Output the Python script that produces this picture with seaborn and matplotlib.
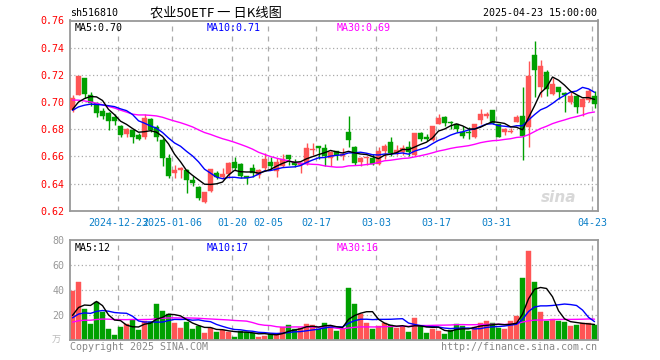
import numpy as np
import pandas as pd
import matplotlib
matplotlib.use("Agg")
import matplotlib.pyplot as plt
import seaborn as sns

# ---------------- data ----------------
opens = [0.694, 0.705, 0.7175, 0.705, 0.6991, 0.6936, 0.6921, 0.6888, 0.6822, 0.6764,
         0.6794, 0.6757, 0.6745, 0.6873, 0.6818, 0.6721, 0.6586, 0.6480, 0.6500, 0.6500,
         0.6426, 0.6372, 0.6266, 0.6347, 0.6475, 0.6446, 0.6470, 0.6561, 0.6544, 0.6455,
         0.6512, 0.6463, 0.6512, 0.6556, 0.6495, 0.6529, 0.6610, 0.6561, 0.6536, 0.6549,
         0.6650, 0.6676, 0.6659, 0.6586, 0.6639, 0.6603, 0.6782, 0.6669, 0.6561, 0.6588,
         0.6590, 0.6542, 0.6641, 0.6706, 0.6622, 0.6634, 0.6670, 0.6610, 0.6774, 0.6745,
         0.6720, 0.6838, 0.6888, 0.6856, 0.6836, 0.6782, 0.6776, 0.6745, 0.6868, 0.6897,
         0.6941, 0.6838, 0.6778, 0.6780, 0.6856, 0.6897, 0.6818, 0.7346, 0.7113, 0.7223,
         0.7059, 0.7113, 0.7064, 0.7002, 0.7044, 0.6966, 0.7015, 0.7044]
highs = [0.705, 0.719, 0.7175, 0.7076, 0.6995, 0.6958, 0.6925, 0.6911, 0.6832, 0.6810,
         0.6800, 0.6770, 0.6912, 0.6880, 0.6830, 0.6735, 0.6620, 0.6537, 0.6525, 0.6510,
         0.6455, 0.6380, 0.6340, 0.6505, 0.6490, 0.6514, 0.6555, 0.6598, 0.6548, 0.6455,
         0.6545, 0.6510, 0.6627, 0.6595, 0.6590, 0.6620, 0.6610, 0.6580, 0.6545, 0.6700,
         0.6696, 0.6676, 0.6690, 0.6640, 0.6639, 0.6660, 0.6897, 0.6675, 0.6598, 0.6598,
         0.6620, 0.6670, 0.6690, 0.6740, 0.6680, 0.6680, 0.6710, 0.6775, 0.6780, 0.6765,
         0.6822, 0.6910, 0.6895, 0.6860, 0.6840, 0.6825, 0.6815, 0.6840, 0.6945, 0.6925,
         0.6941, 0.6840, 0.6812, 0.6810, 0.6905, 0.7113, 0.7304, 0.7449, 0.7309, 0.7235,
         0.7180, 0.7113, 0.7075, 0.7075, 0.7050, 0.7030, 0.7095, 0.7081]
lows = [0.693, 0.705, 0.7027, 0.6970, 0.6888, 0.6875, 0.6794, 0.6830, 0.6740, 0.6740,
        0.6700, 0.6720, 0.6730, 0.6780, 0.6713, 0.6529, 0.6438, 0.6441, 0.6441, 0.6333,
        0.6384, 0.6280, 0.6260, 0.6340, 0.6430, 0.6430, 0.6440, 0.6500, 0.6440, 0.6397,
        0.6450, 0.6440, 0.6500, 0.6500, 0.6450, 0.6520, 0.6540, 0.6520, 0.6480, 0.6540,
        0.6610, 0.6578, 0.6530, 0.6530, 0.6575, 0.6570, 0.6672, 0.6535, 0.6530, 0.6540,
        0.6540, 0.6540, 0.6580, 0.6600, 0.6610, 0.6610, 0.6605, 0.6600, 0.6715, 0.6710,
        0.6710, 0.6835, 0.6820, 0.6805, 0.6780, 0.6735, 0.6730, 0.6735, 0.6840, 0.6880,
        0.6840, 0.6740, 0.6760, 0.6770, 0.6850, 0.6573, 0.6672, 0.7039, 0.7039, 0.7045,
        0.7050, 0.7020, 0.6929, 0.6985, 0.6922, 0.6897, 0.7000, 0.6958]
closes = [0.703, 0.719, 0.7057, 0.6995, 0.6917, 0.6897, 0.6862, 0.6862, 0.6757, 0.6799,
          0.6745, 0.6726, 0.6880, 0.6794, 0.6745, 0.6586, 0.6455, 0.6500, 0.6514, 0.6426,
          0.6406, 0.6291, 0.6338, 0.6505, 0.6450, 0.6470, 0.6549, 0.6512, 0.6455, 0.6438,
          0.6475, 0.6500, 0.6578, 0.6529, 0.6556, 0.6578, 0.6583, 0.6536, 0.6549, 0.6664,
          0.6656, 0.6661, 0.6603, 0.6634, 0.6610, 0.6617, 0.6721, 0.6548, 0.6590, 0.6592,
          0.6544, 0.6641, 0.6676, 0.6627, 0.6647, 0.6664, 0.6633, 0.6770, 0.6725, 0.6730,
          0.6822, 0.6885, 0.6843, 0.6844, 0.6801, 0.6750, 0.6772, 0.6838, 0.6912, 0.6910,
          0.6844, 0.6745, 0.6801, 0.6790, 0.6891, 0.6750, 0.7192, 0.7236, 0.7265, 0.7094,
          0.7133, 0.7076, 0.7052, 0.7044, 0.6966, 0.7020, 0.7081, 0.6985]
volumes = [39.7, 46.4, 25.0, 13.3, 31.0, 23.0, 9.3, 4.5, 11.0, 13.0,
           16.3, 8.5, 15.7, 15.0, 29.0, 23.7, 21.0, 14.0, 10.0, 14.7,
           9.3, 11.5, 6.1, 9.6, 7.0, 8.3, 7.0, 3.0, 7.7, 6.7,
           5.6, 3.0, 3.7, 4.8, 4.8, 10.4, 12.3, 8.8, 9.6, 13.0,
           12.3, 9.3, 13.6, 11.7, 7.5, 8.8, 41.9, 29.0, 21.0, 13.6,
           9.0, 11.5, 13.6, 12.3, 10.1, 10.9, 7.0, 17.9, 11.5, 6.1,
           9.3, 7.7, 5.0, 8.3, 13.0, 11.7, 7.7, 10.9, 13.9, 15.7,
           13.9, 10.1, 8.8, 15.7, 19.7, 50.1, 71.7, 46.9, 22.9, 15.7,
           17.0, 15.7, 14.7, 11.5, 12.3, 13.6, 13.6, 12.3]
# sessions before the visible window (off-chart), estimated from where the
# moving-average lines start at the left edge; used only to seed the MAs
prior_closes = [0.722, 0.723, 0.721, 0.722, 0.724, 0.722, 0.721, 0.722, 0.723, 0.720,
                0.690, 0.688, 0.689, 0.687, 0.688, 0.689, 0.690, 0.688, 0.687, 0.689,
                0.694, 0.693, 0.692, 0.694, 0.693, 0.692, 0.693, 0.692, 0.693]
prior_volumes = [13, 12, 13, 14, 12, 13, 12, 13, 14, 12,
                 13, 12, 13, 14, 12, 13, 12, 13, 14, 12,
                 16, 16, 17, 15, 16, 15, 15, 15, 15]
tick_idx = [8, 17, 27, 33, 41, 51, 61, 71, 87]
tick_labels = ["2024-12-23", "2025-01-06", "01-20", "02-05", "02-17",
               "03-03", "03-17", "03-31", "04-23"]
price_ticks = [0.62, 0.64, 0.66, 0.68, 0.70, 0.72, 0.74, 0.76]
vol_ticks = [20, 40, 60, 80]

# ---------------- style ----------------
sns.set_style("white")
plt.rcParams['font.family'] = ['DejaVu Sans Mono', 'Noto Sans CJK SC']

RED = "#ff5555"
GREEN = "#00a000"
GRID = "#aaaaaa"
SPINE = "#999999"
DATEC = "#0a7fc8"

df = pd.DataFrame({"o": opens, "h": highs, "l": lows, "c": closes, "v": volumes})
df["x"] = np.arange(len(df))
df["up"] = df["c"] >= df["o"]
npre = len(prior_closes)
all_c = pd.Series(prior_closes + closes)
all_v = pd.Series(prior_volumes + volumes)
for n in (5, 10, 30):
    df[f"ma{n}"] = all_c.rolling(n, min_periods=1).mean().iloc[npre:].to_numpy()
    df[f"vma{n}"] = all_v.rolling(n, min_periods=1).mean().iloc[npre:].to_numpy()

fig = plt.figure(figsize=(6.6, 3.6), dpi=100)
W, H = 660.0, 360.0
axp = fig.add_axes([70 / W, 1 - 210.7 / H, 528 / W, 190.2 / H])
axv = fig.add_axes([70 / W, 1 - 340.3 / H, 528 / W, 100 / H])

xmin, xmax = -0.42, 87.58
tick_pos = [t - 0.37 for t in tick_idx]

for ax in (axp, axv):
    ax.set_xlim(xmin, xmax)
    for s in ax.spines.values():
        s.set_color(SPINE)
        s.set_linewidth(1.3)
    for tp in tick_pos:
        ax.axvline(tp, color=GRID, lw=0.9, ls=(0, (4, 4)), zorder=0)

# price grid
axp.set_ylim(0.62, 0.76)
for p in price_ticks[1:-1]:
    axp.axhline(p, color=GRID, lw=0.9, ls=(0, (1, 2)), zorder=0)

# candles
colors = [RED if u else GREEN for u in df["up"]]
axp.vlines(df["x"], df["l"], df["h"], colors=colors, lw=1.0, zorder=2)
bottoms = np.minimum(df["o"], df["c"])
heights = np.maximum(np.abs(df["c"] - df["o"]), 0.0004)
axp.bar(df["x"], heights, bottom=bottoms, width=0.78, color=colors,
        edgecolor=colors, linewidth=0.3, zorder=3)

for col, c in (("ma30", "#ff00ff"), ("ma10", "#0000ff"), ("ma5", "#000000")):
    sns.lineplot(data=df, x="x", y=col, ax=axp, color=c, lw=1.0, zorder=4, legend=False)

axp.set_yticks(price_ticks)
axp.set_yticklabels([f"{p:.2f}" for p in price_ticks], color="#ff0000", fontsize=7.2)
axp.set_xticks(tick_pos)
axp.set_xticklabels(tick_labels, color=DATEC, fontsize=7.2)
axp.tick_params(axis="x", length=2, color=SPINE, pad=3)
axp.tick_params(axis="y", length=0, pad=4)
axp.set_xlabel("")
axp.set_ylabel("")

axp.text(0.008, 0.985, "MA5:0.70", transform=axp.transAxes, color="black",
         fontsize=7.2, va="top", ha="left")
axp.text(0.258, 0.985, "MA10:0.71", transform=axp.transAxes, color="#0000ff",
         fontsize=7.2, va="top", ha="left")
axp.text(0.505, 0.985, "MA30:0.69", transform=axp.transAxes, color="#ff00ff",
         fontsize=7.2, va="top", ha="left")

# watermark
axp.text(0.925, 0.07, "sina", transform=axp.transAxes, color="#d8d8d8",
         fontsize=11, style="italic", fontweight="bold", ha="center", va="center",
         family="DejaVu Sans", zorder=1)

# volume
axv.set_ylim(0, 80)
for v in vol_ticks[:-1]:
    axv.axhline(v, color=GRID, lw=0.9, ls=(0, (1, 2)), zorder=0)
axv.bar(df["x"], df["v"], width=0.82, color=colors, edgecolor=colors,
        linewidth=0.3, zorder=2)
for col, c in (("vma30", "#ff00ff"), ("vma10", "#0000ff"), ("vma5", "#000000")):
    sns.lineplot(data=df, x="x", y=col, ax=axv, color=c, lw=1.0, zorder=4, legend=False)
axv.set_yticks(vol_ticks)
axv.set_yticklabels([str(v) for v in vol_ticks], color="#999999", fontsize=7.2)
axv.tick_params(axis="y", length=0, pad=4)
axv.set_xticks([])
axv.set_xlabel("")
axv.set_ylabel("")
axv.text(0.008, 0.97, "MA5:12", transform=axv.transAxes, color="black",
         fontsize=7.2, va="top", ha="left")
axv.text(0.258, 0.97, "MA10:17", transform=axv.transAxes, color="#0000ff",
         fontsize=7.2, va="top", ha="left")
axv.text(0.505, 0.97, "MA30:16", transform=axv.transAxes, color="#ff00ff",
         fontsize=7.2, va="top", ha="left")

# header and footer
fig.text(70 / W, 1 - 13 / H, "sh516810", fontsize=7.2, color="black", va="center", ha="left")
fig.text(216 / W, 1 - 13 / H, "农业50ETF 一 日K线图", fontsize=9.5, color="black",
         va="center", ha="center", family=['Noto Sans CJK SC', 'DejaVu Sans'])
fig.text(597 / W, 1 - 13 / H, "2025-04-23 15:00:00", fontsize=7.2, color="black",
         va="center", ha="right")
fig.text(70 / W, 1 - 347 / H, "Copyright 2025 SINA.COM", fontsize=7.2, color="#888888",
         va="center", ha="left")
fig.text(597 / W, 1 - 347 / H, "http://finance.sina.com.cn", fontsize=7.2, color="#888888",
         va="center", ha="right")
fig.text(56 / W, 1 - 340 / H, "万", fontsize=6.5, color="#bbbbbb", va="center", ha="center",
         family=['Noto Sans CJK SC', 'DejaVu Sans'])

fig.savefig("out.png", dpi=100)
